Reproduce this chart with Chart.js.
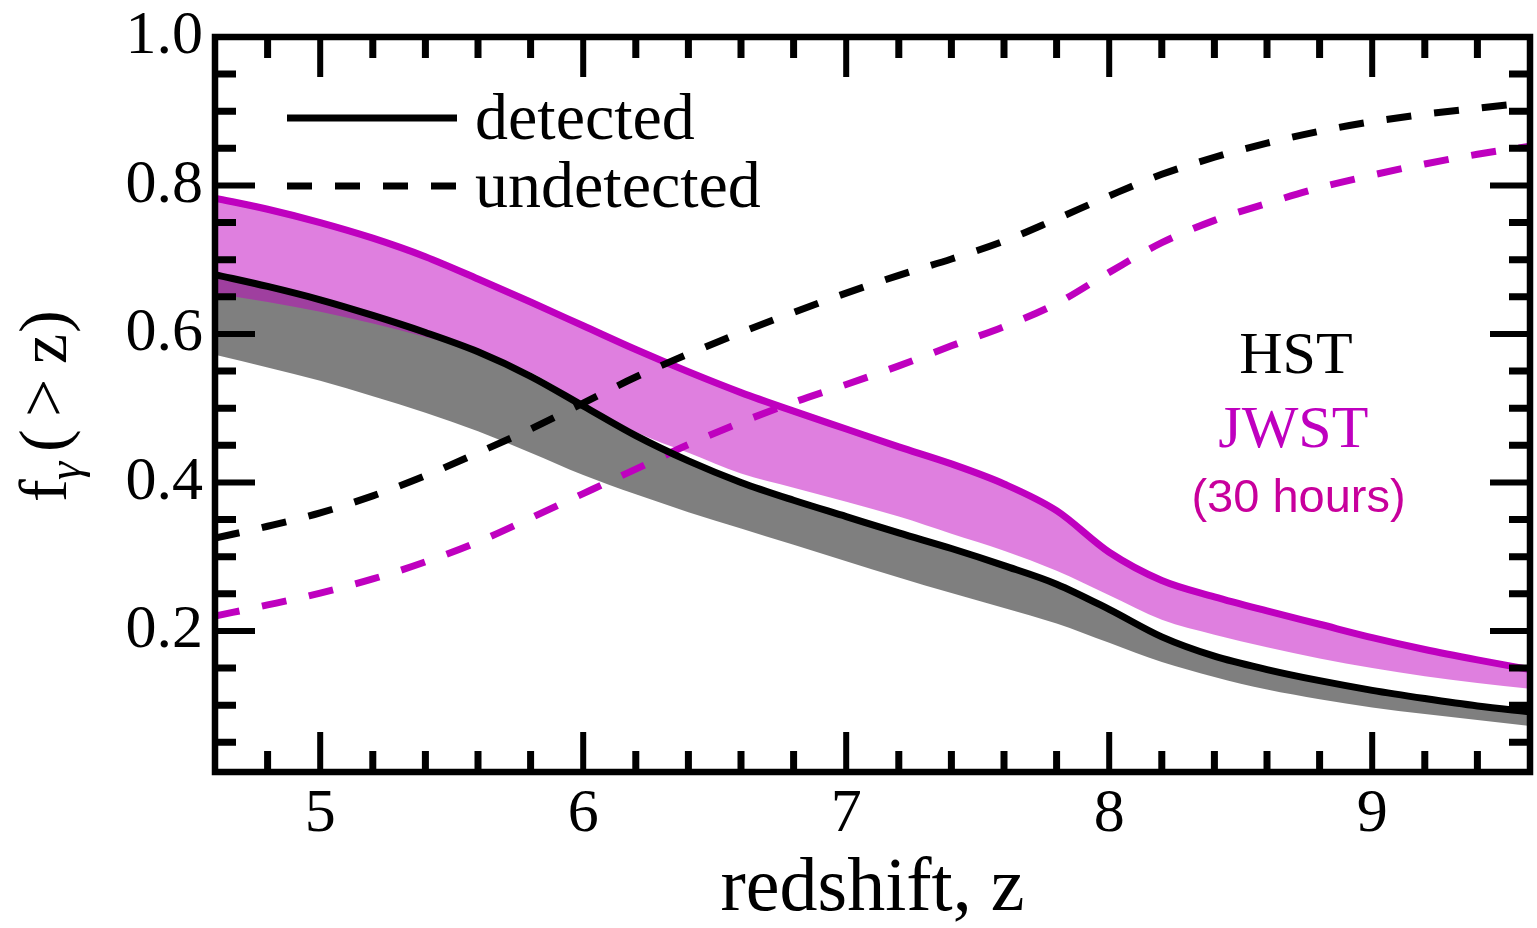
<!DOCTYPE html>
<html>
<head>
<meta charset="utf-8">
<script src="https://cdn.jsdelivr.net/npm/chart.js@4/dist/chart.umd.min.js"></script>
<style>
  html, body { margin: 0; padding: 0; background: #fff; }
  #wrap { width: 1537px; height: 928px; position: relative; }
</style>
</head>
<body>
<div id="wrap"><canvas id="fracChart"></canvas></div>
<script>
  // redshift grid the curves are sampled on
  const redshifts = [4.6, 4.8, 5.0, 5.2, 5.4, 5.6, 5.8, 6.0, 6.2, 6.4, 6.6, 6.8, 7.0,
                     7.2, 7.4, 7.6, 7.8, 8.0, 8.2, 8.4, 8.6, 8.8, 9.0, 9.2, 9.4, 9.6];

  // HST: detected fraction, lower edge of its band, undetected fraction
  const hstDetected = [0.680, 0.664, 0.646, 0.625, 0.602, 0.576, 0.543, 0.503, 0.463, 0.429, 0.400, 0.376, 0.354,
                       0.332, 0.311, 0.288, 0.263, 0.229, 0.192, 0.166, 0.148, 0.133, 0.120, 0.109, 0.099, 0.091];
  const hstLower    = [0.572, 0.555, 0.537, 0.516, 0.494, 0.469, 0.440, 0.410, 0.384, 0.360, 0.338, 0.316, 0.294,
                       0.272, 0.251, 0.231, 0.210, 0.184, 0.158, 0.138, 0.121, 0.108, 0.097, 0.088, 0.080, 0.072];
  const hstUndetected = [0.325, 0.341, 0.359, 0.382, 0.409, 0.440, 0.472, 0.507, 0.542, 0.573, 0.602, 0.629, 0.655,
                         0.679, 0.701, 0.725, 0.755, 0.786, 0.815, 0.838, 0.857, 0.873, 0.886, 0.896, 0.904, 0.912];

  // JWST (30 hours): same three curves
  const jwstDetected = [0.783, 0.768, 0.750, 0.729, 0.704, 0.674, 0.643, 0.611, 0.579, 0.549, 0.521, 0.496, 0.472,
                        0.448, 0.425, 0.398, 0.362, 0.306, 0.268, 0.246, 0.227, 0.209, 0.191, 0.175, 0.161, 0.148];
  const jwstLower    = [0.655, 0.643, 0.630, 0.614, 0.596, 0.576, 0.548, 0.507, 0.468, 0.440, 0.412, 0.393, 0.374,
                        0.354, 0.331, 0.308, 0.281, 0.248, 0.215, 0.195, 0.178, 0.163, 0.150, 0.139, 0.130, 0.122];
  const jwstUndetected = [0.220, 0.235, 0.251, 0.270, 0.293, 0.320, 0.352, 0.385, 0.418, 0.451, 0.481, 0.508, 0.532,
                          0.557, 0.584, 0.610, 0.641, 0.683, 0.723, 0.753, 0.776, 0.797, 0.814, 0.829, 0.842, 0.853];

  const xTicks = [5, 6, 7, 8, 9];
  const yTicks = [0.2, 0.4, 0.6, 0.8, 1.0];
  const legendLabels = ['detected', 'undetected'];

  const MAGENTA = '#bf00bf';
  const SERIF = '"Liberation Serif", "DejaVu Serif", serif';
  const DASH = [25, 23];

  const toPoints = ys => redshifts.map((z, i) => ({ x: z, y: ys[i] }));

  // text labels placed in data coordinates
  const notes = [
    { text: 'HST',        z: 8.71, f: 0.547, color: '#000',    font: '60px ' + SERIF },
    { text: 'JWST',       z: 8.70, f: 0.448, color: MAGENTA,   font: '60px ' + SERIF },
    { text: '(30 hours)', z: 8.72, f: 0.360, color: '#c8009c', font: '47px "Liberation Sans", Arial, sans-serif' }
  ];

  // box frame with inward ticks on all four sides
  const framePlugin = {
    id: 'frame',
    afterDatasetsDraw(chart) {
      const { ctx, chartArea: a, scales: { x, y } } = chart;
      ctx.save();
      ctx.strokeStyle = '#000';
      ctx.lineCap = 'butt';
      ctx.setLineDash([]);

      const xTick = (v, len, w) => {
        const px = x.getPixelForValue(v);
        ctx.lineWidth = w;
        ctx.beginPath();
        ctx.moveTo(px, a.bottom); ctx.lineTo(px, a.bottom - len);
        ctx.moveTo(px, a.top); ctx.lineTo(px, a.top + len);
        ctx.stroke();
      };
      const yTick = (v, len, w) => {
        const py = y.getPixelForValue(v);
        ctx.lineWidth = w;
        ctx.beginPath();
        ctx.moveTo(a.left, py); ctx.lineTo(a.left + len, py);
        ctx.moveTo(a.right, py); ctx.lineTo(a.right - len, py);
        ctx.stroke();
      };

      for (let k = 24; k < 48; k++) {
        const v = k / 5;
        if (k % 5 === 0) xTick(v, 40, 6); else xTick(v, 21, 7);
      }
      for (let k = 1; k < 20; k++) {
        const v = k / 20;
        if (k % 4 === 0) yTick(v, 40, 6); else yTick(v, 21, 7);
      }

      ctx.lineWidth = 6.5;
      ctx.strokeRect(a.left, a.top, a.width, a.height);
      ctx.restore();
    },
    afterDraw(chart) {
      const { ctx, chartArea: a, scales: { x, y } } = chart;
      ctx.save();

      // legend: line samples plus labels
      const rows = [
        { label: legendLabels[0], dash: [], cy: a.top + 81 },
        { label: legendLabels[1], dash: DASH, cy: a.top + 149 }
      ];
      rows.forEach(r => {
        ctx.strokeStyle = '#000';
        ctx.lineWidth = 7;
        ctx.lineCap = 'butt';
        ctx.setLineDash(r.dash);
        ctx.beginPath();
        ctx.moveTo(a.left + 72, r.cy);
        ctx.lineTo(a.left + 242, r.cy);
        ctx.stroke();
        ctx.setLineDash([]);
        ctx.fillStyle = '#000';
        ctx.font = '66px ' + SERIF;
        ctx.textAlign = 'left';
        ctx.textBaseline = 'alphabetic';
        ctx.fillText(r.label, a.left + 260, r.cy + 21);
      });

      // instrument labels
      notes.forEach(n => {
        ctx.fillStyle = n.color;
        ctx.font = n.font;
        ctx.textAlign = 'center';
        ctx.textBaseline = 'alphabetic';
        ctx.fillText(n.text, x.getPixelForValue(n.z), y.getPixelForValue(n.f));
      });

      // y-axis title f_gamma(>z), written bottom to top
      ctx.translate(66, 502);
      ctx.rotate(-Math.PI / 2);
      ctx.fillStyle = '#000';
      ctx.textAlign = 'left';
      ctx.textBaseline = 'alphabetic';
      ctx.font = '68px ' + SERIF;
      ctx.fillText('f', 0, 0);
      ctx.font = 'italic 46px ' + SERIF;
      ctx.fillText('\u03b3', 22, 14);
      ctx.font = '68px ' + SERIF;
      ctx.fillText('(', 50, 0);
      ctx.fillText('>', 85, 0);
      ctx.fillText('z', 138, 0);
      ctx.fillText(')', 169, 0);
      ctx.restore();
    }
  };

  const lineBase = { pointRadius: 0, borderWidth: 7, cubicInterpolationMode: 'monotone', fill: false };

  new Chart(document.getElementById('fracChart').getContext('2d'), {
    type: 'line',
    data: {
      datasets: [
        { ...lineBase, label: 'HST detected', data: toPoints(hstDetected), borderColor: '#000' },
        { ...lineBase, label: 'HST undetected', data: toPoints(hstUndetected), borderColor: '#000', borderDash: DASH },
        { ...lineBase, label: 'JWST detected', data: toPoints(jwstDetected), borderColor: MAGENTA },
        { ...lineBase, label: 'JWST undetected', data: toPoints(jwstUndetected), borderColor: MAGENTA, borderDash: DASH },
        // shaded ranges below each detected curve
        { ...lineBase, label: 'JWST range', data: toPoints(jwstLower), borderWidth: 0,
          borderColor: 'rgba(0,0,0,0)', backgroundColor: 'rgba(191,0,191,0.5)', fill: 2 },
        { ...lineBase, label: 'HST range', data: toPoints(hstLower), borderWidth: 0,
          borderColor: 'rgba(0,0,0,0)', backgroundColor: 'rgba(0,0,0,0.5)', fill: 0 }
      ]
    },
    options: {
      responsive: true,
      maintainAspectRatio: false,
      animation: false,
      layout: { padding: { top: 37, right: 7, left: 0, bottom: 0 } },
      plugins: {
        legend: { display: false },
        tooltip: { enabled: false },
        filler: { drawTime: 'beforeDatasetsDraw' }
      },
      scales: {
        x: {
          type: 'linear',
          min: 4.6,
          max: 9.6,
          grid: { display: false, drawTicks: false },
          border: { display: false },
          afterFit: s => { s.height = 156; s.paddingLeft = 0; s.paddingRight = 0; },
          afterBuildTicks: s => { s.ticks = xTicks.map(v => ({ value: v })); },
          ticks: {
            autoSkip: false, maxRotation: 0, padding: 12, color: '#000',
            font: { family: SERIF, size: 62, lineHeight: 1 },
            callback: v => String(v)
          },
          title: {
            display: true, text: 'redshift, z', color: '#000',
            font: { family: SERIF, size: 76, lineHeight: 1 },
            padding: { top: 0, bottom: 0 }
          }
        },
        y: {
          type: 'linear',
          min: 0.01,
          max: 1.0,
          grid: { display: false, drawTicks: false },
          border: { display: false },
          afterFit: s => { s.width = 215; s.paddingTop = 0; s.paddingBottom = 0; },
          afterBuildTicks: s => { s.ticks = yTicks.map(v => ({ value: v })); },
          ticks: {
            autoSkip: false, padding: 12, color: '#000',
            font: { family: SERIF, size: 62, lineHeight: 1 },
            callback: v => v.toFixed(1)
          }
        }
      }
    },
    plugins: [framePlugin]
  });
</script>
</body>
</html>
